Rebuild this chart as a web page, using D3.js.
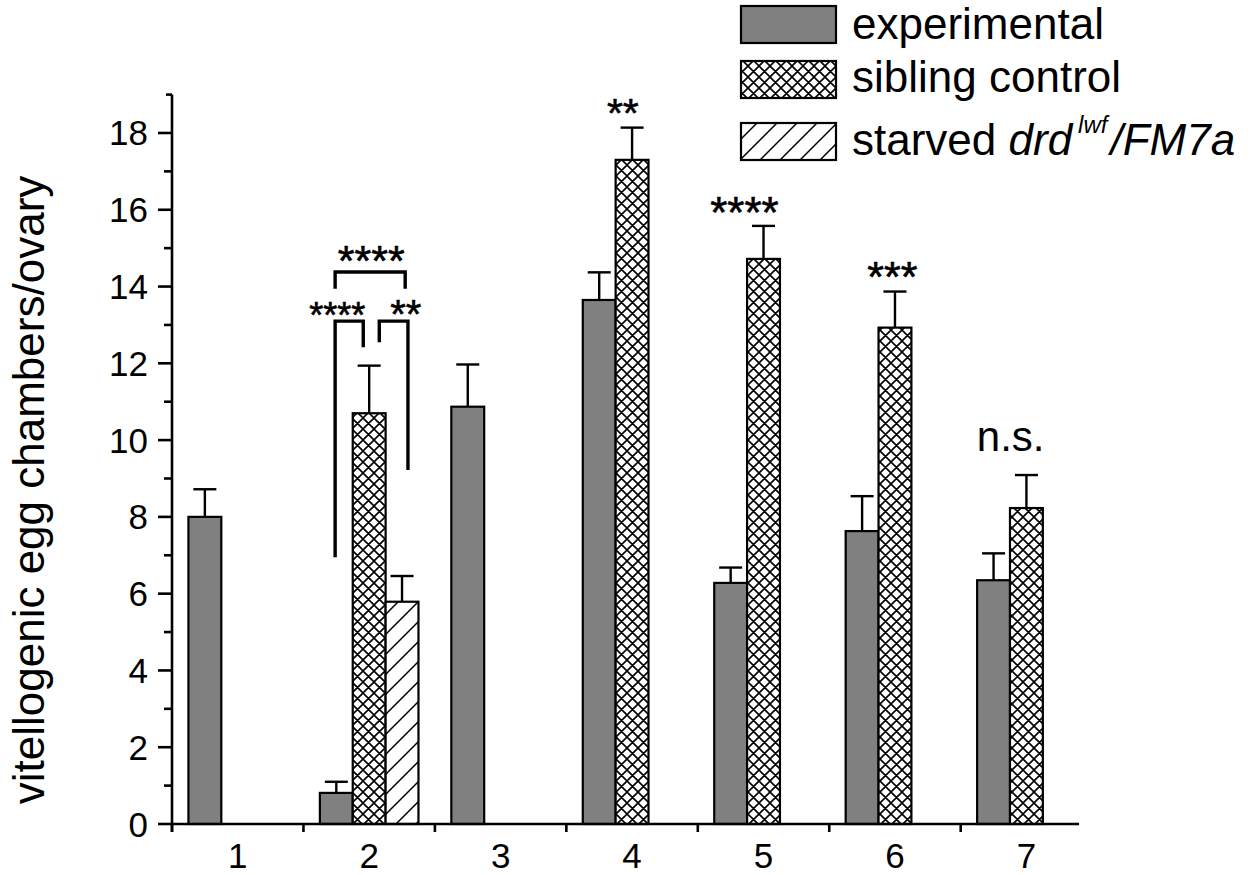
<!DOCTYPE html>
<html>
<head>
<meta charset="utf-8">
<script src="https://cdn.jsdelivr.net/npm/d3@7"></script>
<style>
  html, body { margin: 0; padding: 0; background: #fff; }
  svg { display: block; font-family: Arial, "Liberation Sans", sans-serif; }
</style>
</head>
<body>
<svg id="chart" width="1254" height="875"></svg>
<script>
// ---------- data ----------
const categories = [1, 2, 3, 4, 5, 6, 7];
const seriesNames = ["experimental", "sibling control", "starved"];
// values (null = no bar)
const experimental    = [8.0, 0.81, 10.87, 13.65, 6.28, 7.63, 6.35];
const experimentalErr = [0.72, 0.29, 1.10, 0.72, 0.40, 0.91, 0.70];
const sibling         = [null, 10.70, null, 17.30, 14.72, 12.93, 8.23];
const siblingErr      = [null, 1.24, null, 0.84, 0.86, 0.94, 0.86];
const starved         = [null, 5.79, null, null, null, null, null];
const starvedErr      = [null, 0.67, null, null, null, null, null];
const yTicks = [0, 2, 4, 6, 8, 10, 12, 14, 16, 18];
const yMinorTicks = [1, 3, 5, 7, 9, 11, 13, 15, 17];
const xTickBounds = [0.5, 1.5, 2.5, 3.5, 4.5, 5.5, 6.5];
// significance labels: [x value, y value (baseline), text, font size]
const sigLabels = [
  [3.93, 18.16, "**", 41],
  [4.855, 15.53, "****", 44],
  [5.98, 13.88, "***", 43],
  [2.016, 14.30, "****", 43],
  [1.757, 12.92, "****", 36],
  [2.278, 12.92, "**", 40],
];
const nsLabel = [6.88, 9.72, "n.s."];
// brackets in category 2 (data coordinates): [x1, yLeftEnd, x2, yRightEnd, yTop]
const brackets = [
  [1.741, 6.95, 1.955, 12.42, 13.10],
  [2.077, 12.55, 2.295, 9.22, 13.10],
  [1.741, 13.94, 2.274, 13.94, 14.38],
];

// ---------- layout ----------
const svg = d3.select("#chart");
const x = d3.scaleLinear().domain([0.5, 7.4]).range([172, 1079]);
const y = d3.scaleLinear().domain([0, 19]).range([824, 94.6]);
const barW = x(0.75) - x(0.5);

const defs = svg.append("defs");
const cross = defs.append("pattern").attr("id", "cross")
  .attr("patternUnits", "userSpaceOnUse").attr("width", 11).attr("height", 11);
cross.append("rect").attr("width", 11).attr("height", 11).attr("fill", "#fff");
cross.append("path").attr("d", "M0,0L11,11M0,11L11,0M-1,1L1,-1M10,12L12,10M-1,10L1,12M10,-1L12,1")
  .attr("stroke", "#000").attr("stroke-width", 1.6);
const diag = defs.append("pattern").attr("id", "diag")
  .attr("patternUnits", "userSpaceOnUse").attr("width", 20).attr("height", 20);
diag.append("rect").attr("width", 20).attr("height", 20).attr("fill", "#fff");
diag.append("path").attr("d", "M0,20L20,0M-2,2L2,-2M18,22L22,18")
  .attr("stroke", "#000").attr("stroke-width", 1.5);

const fills = ["#808080", "url(#cross)", "url(#diag)"];
const seriesVals = [experimental, sibling, starved];
const seriesErrs = [experimentalErr, siblingErr, starvedErr];
const offsets = [-1.5, -0.5, 0.5]; // in bar widths relative to category center

seriesVals.forEach((vals, s) => {
  const data = categories.map((c, i) => ({c, v: vals[i], e: seriesErrs[s][i]})).filter(d => d.v != null);
  const cx = d => x(d.c) + (offsets[s] + 0.5) * barW;
  const g = svg.append("g");
  g.selectAll("line.err").data(data).join("line").attr("class", "err")
    .attr("x1", cx).attr("x2", cx)
    .attr("y1", d => y(d.v)).attr("y2", d => y(d.v + d.e))
    .attr("stroke", "#000").attr("stroke-width", 2.4);
  g.selectAll("line.cap").data(data).join("line").attr("class", "cap")
    .attr("x1", d => cx(d) - 11.5).attr("x2", d => cx(d) + 11.5)
    .attr("y1", d => y(d.v + d.e)).attr("y2", d => y(d.v + d.e))
    .attr("stroke", "#000").attr("stroke-width", 2.4);
  g.selectAll("rect").data(data).join("rect")
    .attr("x", d => x(d.c) + offsets[s] * barW)
    .attr("width", barW)
    .attr("y", d => y(d.v))
    .attr("height", d => y(0) - y(d.v))
    .attr("fill", fills[s]).attr("stroke", "#000").attr("stroke-width", 2.2);
});

// ---------- axes ----------
const axisG = svg.append("g").attr("stroke", "#000").attr("stroke-width", 2.6);
axisG.append("line").attr("x1", x(0.5)).attr("x2", x(0.5)).attr("y1", y(19)).attr("y2", y(0) + 8);
axisG.append("line").attr("x1", x(0.5)).attr("x2", x(7.4)).attr("y1", y(0)).attr("y2", y(0));
axisG.append("line").attr("x1", x(0.5) - 6).attr("x2", x(0.5)).attr("y1", y(19)).attr("y2", y(19));
axisG.selectAll("line.ymaj").data(yTicks).join("line").attr("class", "ymaj")
  .attr("x1", x(0.5) - 14).attr("x2", x(0.5)).attr("y1", d => y(d)).attr("y2", d => y(d));
axisG.selectAll("line.ymin").data(yMinorTicks).join("line").attr("class", "ymin")
  .attr("x1", x(0.5) - 8).attr("x2", x(0.5)).attr("y1", d => y(d)).attr("y2", d => y(d));
axisG.selectAll("line.xt").data(xTickBounds).join("line").attr("class", "xt")
  .attr("x1", d => x(d)).attr("x2", d => x(d)).attr("y1", y(0)).attr("y2", y(0) + 8);

svg.append("g").selectAll("text").data(yTicks).join("text")
  .attr("x", 148).attr("y", d => y(d) + 12.5)
  .attr("text-anchor", "end").attr("font-size", 35).text(d => d);
svg.append("g").selectAll("text").data(categories).join("text")
  .attr("x", d => x(d)).attr("y", 868)
  .attr("text-anchor", "middle").attr("font-size", 35).text(d => d);

svg.append("text")
  .attr("transform", `translate(44,490) rotate(-90)`)
  .attr("text-anchor", "middle").attr("font-size", 44)
  .text("vitellogenic egg chambers/ovary");

// ---------- significance ----------
svg.append("g").selectAll("text").data(sigLabels).join("text")
  .attr("x", d => x(d[0])).attr("y", d => y(d[1]))
  .attr("text-anchor", "middle").attr("font-size", d => d[3])
  .attr("stroke", "#000").attr("stroke-width", 0.6)
  .text(d => d[2]);
svg.append("text").attr("x", x(nsLabel[0])).attr("y", y(nsLabel[1]))
  .attr("text-anchor", "middle").attr("font-size", 42).text(nsLabel[2]);

const bg = svg.append("g").attr("fill", "none").attr("stroke", "#000").attr("stroke-width", 3.4);
brackets.forEach(b => {
  bg.append("path").attr("d",
    `M${x(b[0])},${y(b[1])}L${x(b[0])},${y(b[4])}L${x(b[2])},${y(b[4])}L${x(b[2])},${y(b[3])}`);
});

// ---------- legend ----------
const legend = svg.append("g");
const legRows = [
  {fill: fills[0], top: 6, base: 39, name: seriesNames[0]},
  {fill: fills[1], top: 61, base: 92, name: seriesNames[1]},
  {fill: fills[2], top: 123, base: 155, name: null},
];
legend.selectAll("rect").data(legRows).join("rect")
  .attr("x", 741).attr("y", d => d.top).attr("width", 95).attr("height", 37)
  .attr("fill", d => d.fill).attr("stroke", "#000").attr("stroke-width", 2.2);
legend.selectAll("text.lab").data(legRows.filter(d => d.name)).join("text").attr("class", "lab")
  .attr("x", 852).attr("y", d => d.base).attr("font-size", 44).text(d => d.name);
const t3 = legend.append("text").attr("x", 852).attr("y", legRows[2].base).attr("font-size", 44);
t3.append("tspan").text("starved ");
t3.append("tspan").attr("font-style", "italic").text("drd");
t3.append("tspan").attr("font-style", "italic").attr("font-size", 24).attr("dy", -22).attr("dx", 6).text("lwf");
t3.append("tspan").attr("font-style", "italic").attr("dy", 22).attr("dx", 3).text("/FM7a");
</script>
</body>
</html>
